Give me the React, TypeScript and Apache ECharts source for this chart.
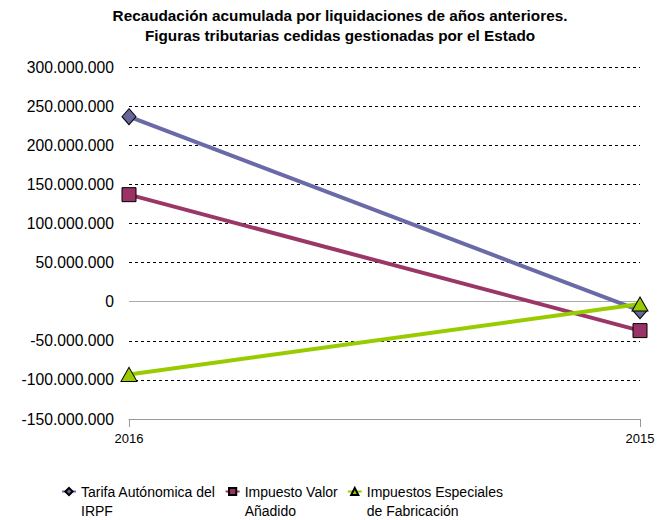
import React, { useEffect, useRef } from "react";
import * as echarts from "echarts";

const titleLines = [
  "Recaudación acumulada por liquidaciones de años anteriores.",
  "Figuras tributarias cedidas gestionadas por el Estado",
];
const categories = ["2016", "2015"];
const seriesNames = [
  "Tarifa Autónomica del\nIRPF",
  "Impuesto Valor\nAñadido",
  "Impuestos Especiales\nde Fabricación",
];
const irpf = [236500000, -11500000];
const iva = [136800000, -37000000];
const iiee = [-93000000, -3000000];
const yMin = -150000000;
const yMax = 300000000;
const yInterval = 50000000;

const fmt = (v: number) => {
  const s = Math.abs(Math.round(v)).toString().replace(/\B(?=(\d{3})+(?!\d))/g, ".");
  return (v < 0 ? "-" : "") + s;
};

export default function App() {
  const ref = useRef<HTMLDivElement>(null);
  useEffect(() => {
    if (!ref.current) return;
    const chart = echarts.init(ref.current, null, { renderer: "svg" });
    const font = "'Liberation Sans', Arial, sans-serif";
    const gridColors = ["transparent", "#000", "#000", "transparent", "#000", "#000", "#000", "#000", "#000", "#000"];
    chart.setOption({
      animation: false,
      backgroundColor: "#fff",
      title: {
        text: titleLines.join("\n"),
        left: 335,
        textAlign: "center",
        top: 0,
        padding: 5,
        textStyle: { fontFamily: font, fontSize: 15.3, fontWeight: "bold", color: "#000", lineHeight: 20 },
      },
      grid: { left: 129, right: 19, top: 67, bottom: 101, containLabel: false },
      legend: {
        left: 61,
        top: 463,
        padding: 0,
        itemWidth: 14,
        itemHeight: 9,
        itemGap: 9,
        formatter: (name: string) => "\n" + name,
        textStyle: { fontFamily: font, fontSize: 14, color: "#000", lineHeight: 19 },
        data: seriesNames,
      },
      xAxis: {
        type: "category",
        data: categories,
        boundaryGap: false,
        axisLine: { onZero: false, lineStyle: { color: "#999", width: 1 } },
        axisTick: { show: true, length: 8, lineStyle: { color: "#999" } },
        axisLabel: { fontFamily: font, fontSize: 13, color: "#000", margin: 13 },
        splitLine: { show: false },
      },
      yAxis: {
        type: "value",
        min: yMin,
        max: yMax,
        interval: yInterval,
        axisLine: { show: false },
        axisTick: { show: false },
        axisLabel: { fontFamily: font, fontSize: 15.7, color: "#000", margin: 15, formatter: (v: number) => fmt(v) },
        splitLine: { show: true, lineStyle: { color: gridColors, type: [3, 3], width: 1 } },
      },
      series: [
        {
          name: seriesNames[0],
          type: "line",
          data: irpf,
          symbol: "diamond",
          symbolSize: [14, 16],
          lineStyle: { color: "#6A6AA8", width: 4 },
          itemStyle: { color: "#666699", borderColor: "#000", borderWidth: 1 },
          z: 3,
          markLine: {
            silent: true,
            symbol: "none",
            label: { show: false },
            lineStyle: { color: "#aaa", type: "solid", width: 1 },
            data: [{ yAxis: 0 }],
            z: 1,
          },
        },
        {
          name: seriesNames[1],
          type: "line",
          data: iva,
          symbol: "rect",
          symbolSize: 14,
          lineStyle: { color: "#9B3766", width: 4 },
          itemStyle: { color: "#993366", borderColor: "#000", borderWidth: 1 },
          z: 4,
        },
        {
          name: seriesNames[2],
          type: "line",
          data: iiee,
          symbol: "triangle",
          symbolSize: [16, 14],
          lineStyle: { color: "#99CC00", width: 4 },
          itemStyle: { color: "#99CC00", borderColor: "#000", borderWidth: 1 },
          z: 5,
        },
      ],
    });
    return () => chart.dispose();
  }, []);
  return <div ref={ref} style={{ width: 659, height: 520, position: "absolute", left: 0, top: 0 }} />;
}
